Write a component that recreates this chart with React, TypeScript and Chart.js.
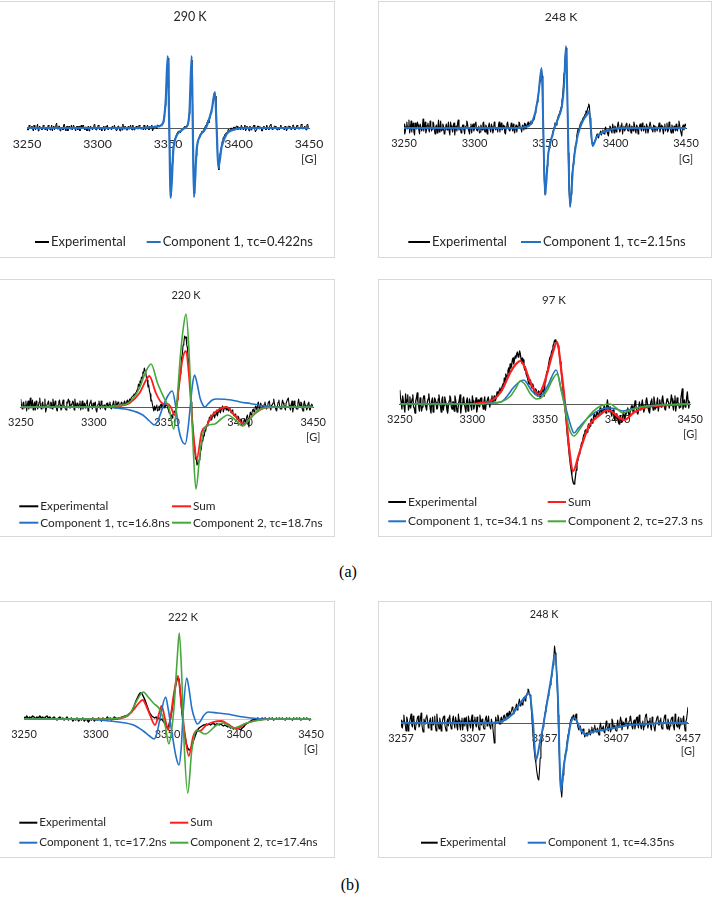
import React, { useEffect, useRef } from "react";
import { Chart, registerables } from "chart.js";

Chart.register(...registerables);

const FONT = "Lato, 'Open Sans', 'DejaVu Sans', sans-serif";
const TEXT = "#262626";
const C_EXP = "#000000";
const C_SUM = "#ff1c1c";
const C_C1 = "#2372c8";
const C_C2 = "#46a83a";

// ---------------- (a) 290 K  (experimental: 0.5 G steps from 3250) ----------------
const TICKS_A = [3250, 3300, 3350, 3400, 3450];
const T290_EXP = [
  1, -2, -2, 3, 2, -1, 0, 2, -1, -3, 3, 1, -2, 0, 1, 4, -3, -1, 2, 0,
  0, -2, -1, 3, 2, -1, -2, 1, 1, -3, 3, 2, -1, -2, 0, 3, -3, 1, 2, -2,
  1, 3, 5, -1, -1, 2, 2, -3, -2, 1, 0, -2, 3, 4, -1, -3, 1, 2, -3, 0,
  2, -1, 0, 3, -2, -2, 3, 1, -1, -3, 1, 2, -2, 0, 2, -3, 0, 3, -1, 1,
  3, 0, -2, 1, 1, -3, 0, 2, -3, -1, 2, 1, -1, -2, 1, 3, 4, -1, -2, 0,
  0, 3, 2, -2, -1, 1, -3, 0, 1, 2, -3, -1, 2, 1, 3, -2, -2, 1, 0, -1,
  -2, 2, 1, -1, 3, 0, 0, -3, -1, 2, 2, -1, -3, 1, 1, -2, 4, 0, -1, 2,
  0, -2, -2, 1, 2, -1, 1, 3, -1, -2, 3, 0, -2, 1, 0, 2, 1, -1, -1, 3,
  2, -1, -1, 1, 0, -2, 3, 1, -2, 0, 1, 3, -1, -2, 2, 0, 0, 3, -3, -1,
  1, 2, 2, 0, -1, 3, 3, 1, 1, 3, 2, 4, 4, 6, 9, 14, 22, 30, 46, 62,
  70, 40, -10, -45, -68, -50, -35, -25, -18, -14, -10, -8, -7, -5, -5, -3, -3, -5, -4, -2,
  -1, -2, 0, 1, 2, 0, 1, 3, 4, 6, 14, 25, 40, 62, 68, 15, -40, -66, -48, -35,
  -28, -20, -15, -12, -10, -8, -6, -5, -3, -3, -4, -1, 0, 2, 3, 5, 6, 8, 5, 9,
  12, 15, 18, 22, 28, 32, 36, 32, 20, 0, -20, -34, -42, -32, -25, -21, -18, -13, -10, -9,
  -8, -6, -5, -5, -4, -2, -1, -3, -3, 0, 0, -2, -2, 1, 1, -1, -1, 2, 2, -1,
  -2, 1, 0, -2, 3, 1, -1, -2, 1, 3, -3, -1, 2, 0, 0, -3, 2, 1, -2, 0,
  -1, 2, 3, -1, -4, -2, 0, 2, 2, -1, -1, 1, 1, -3, -3, 1, 2, 0, 0, -2,
  3, 1, -1, -2, 1, 3, 4, 0, -2, -1, 0, 2, 2, -1, -1, -2, 1, 0, -2, 1,
  3, -1, 0, 1, -1, -2, 2, 1, -3, -1, 1, 2, 2, 0, -1, -2, 0, 3, 3, -1,
  -2, 0, 1, 3, 2, -1, -1, 1, 0, 4, 3, -1, -1, 1, 2, -1, -2, 3, 4, 1,
  0,
];
const T290_C1_X = [3250, 3330, 3340, 3344, 3346.5, 3348.4, 3349.8, 3350.9, 3351.9, 3353.8, 3356, 3359, 3362, 3364, 3365.3, 3366.8, 3367.6, 3368.4, 3370.3, 3372.7, 3376, 3378, 3381, 3383.3, 3384.5, 3385.7, 3388, 3391.6, 3396, 3405, 3450];
const T290_C1_Y = [0, 0, 1, 2, 5, 28, 72, 0, -70, -22, -8, -3, 0, 3, 18, 72, 0, -69, -22, -8, -2, 4, 18, 36, 0, -40, -19, -6, -2, 0, 0];

// ---------------- (a) 248 K  (experimental: 0.5 G steps from 3250) ----------------
const T248A_EXP = [
  4, -6, -3, 2, 6, -1, 1, 8, -5, 0, 7, -4, 2, 5, -4, -7, 5, 1, -1, 6,
  3, -2, -6, 4, 4, -3, 0, 9, -3, 2, 6, -5, -2, 3, 5, -1, -4, 7, 2, -3,
  -1, 6, 5, -2, -6, 1, 3, -5, 1, 8, -4, 0, 7, -3, -2, 4, 2, -6, -5, 1,
  4, -2, 0, 6, -3, -7, 6, 2, -1, -4, 3, 5, -7, 0, 2, -3, 5, 8, -2, 1,
  0, -5, -4, 3, 3, -2, -6, 1, 2, 7, 5, -1, -3, -6, 1, 4, -5, 2, 4, -3,
  -1, 5, 6, -2, -3, 0, 2, -5, -4, 3, 0, -2, 5, 6, -2, -4, 3, 1, -6, -1,
  2, 5, -1, -4, 4, 1, -5, -2, 6, 3, -2, 0, 0, -4, 3, 6, -4, 1, 5, -2,
  -1, 3, 2, -5, -6, 1, 4, 6, 1, -2, -3, -1, 5, 2, -3, 4, -2, -5, 0, 3,
  -4, 1, 2, 6, 5, 0, -1, -4, 3, 2, -2, 5, 4, -1, 1, 3, 6, 2, 3, 5,
  7, 4, 5, 8, 11, 9, 15, 17, 24, 26, 31, 36, 42, 47, 53, 59, 52, 20, -25, -52,
  -66, -58, -45, -38, -30, -24, -20, -15, -12, -10, -8, -4, -2, 1, 5, 4, 3, 7, 10, 12,
  14, 16, 18, 21, 27, 32, 42, 55, 65, 74, 80, 60, 20, -25, -60, -74, -78, -66, -50, -42,
  -36, -30, -24, -18, -15, -8, -4, -1, -2, 1, 4, 6, 6, 8, 10, 11, 12, 14, 17, 15,
  18, 21, 24, 22, 10, -2, -12, -16, -18, -15, -14, -12, -11, -8, -6, -9, -10, -6, -5, -3,
  -7, -4, -2, -5, -6, -1, 1, -3, -4, -6, -8, -2, 2, 1, -3, -5, 4, 0, -5, 2,
  1, -4, -2, 3, 6, 0, -4, -2, 3, 5, -6, -1, 2, -3, -1, 4, 5, -2, -3, 1,
  4, -1, -5, 2, 1, -3, 6, 3, -2, -5, 3, 1, -6, -2, 2, 4, -1, -3, 5, 0,
  -3, 2, 0, -5, 4, 1, -5, -2, 2, 6, 6, -1, -2, -4, 3, 2, -4, 1, 1, -3,
  -3, 2, 5, -4, -1, 3, 2, -2, -6, 1, 4, -3, 0, 5, -4, -2, 6, 3, -2, -5,
  3, 0, -5, 2, 1, -3, 4, -2, -3, 2, 7, 3, -2, -5, -8, 1, 3, -2, 1, 4,
  2,
];
const T248A_C1_X = [3250, 3330, 3336, 3340, 3343, 3345.3, 3347.6, 3348.8, 3350, 3352.4, 3354.7, 3356.2, 3358, 3360, 3362, 3363.5, 3364.9, 3366.3, 3367.7, 3370, 3372.5, 3374.8, 3377.2, 3379.6, 3381.2, 3382.5, 3383.8, 3386.7, 3391.4, 3398, 3410, 3450];
const T248A_C1_Y = [0, 0, 1, 4, 15, 33, 60, 0, -67, -25, -10, -2, 5, 12, 22, 42, 82, 0, -79, -38, -12, 0, 8, 13, 17, 0, -18, -9, -4, -1, 0, 0];

// ---------------- (a) 220 K  (experimental: 0.5 G steps from 3250) ----------------
const T220_EXP = [
  8, 2, -2, 4, 5, -1, 1, 6, -4, 2, 6, -2, 3, 9, -1, 2, 7, -3, 2, 5,
  -3, 6, 4, -2, 0, 5, 9, 1, -2, 3, 5, -1, 1, 8, -5, -2, 3, 4, 6, 0,
  -1, 5, 4, -2, 8, 3, 0, 6, 3, -3, -4, 2, 5, 7, 2, -3, -2, 4, 7, 1,
  1, -2, -3, 5, 4, 8, 6, -1, -1, 3, 2, 6, 5, -3, 8, 2, 0, 4, 2, -1,
  3, 6, -3, 1, 6, -2, 1, 4, -1, 3, 4, 7, -4, -1, 2, 5, 7, 1, -2, 4,
  0, 3, 5, -3, -5, 1, 3, 6, 1, -2, 6, 3, -1, 1, 2, -2, -3, 3, 4, 1,
  0, 3, 5, -1, -2, 2, 3, 6, 1, -1, 6, 2, 2, 5, 4, 1, 1, 4, 5, 3,
  2, 4, 6, 3, 4, 6, 7, 4, 5, 8, 6, 9, 9, 11, 11, 13, 12, 14, 15, 17,
  18, 23, 21, 26, 24, 30, 29, 35, 34, 39, 36, 35, 28, 27, 20, 22, 16, 13, 6, 7,
  3, -1, -4, 1, -3, 0, 2, -4, -3, 1, -3, 2, 3, -1, -2, 3, 2, -1, 1, 2,
  2, -1, -3, -6, -5, -9, -8, -11, -7, -7, -4, -5, -1, 1, 7, 10, 19, 24, 33, 38,
  49, 53, 62, 64, 71, 69, 70, 62, 59, 48, 42, 28, 20, 5, -4, -18, -26, -39, -44, -52,
  -52, -58, -56, -57, -53, -51, -44, -42, -33, -34, -28, -29, -23, -24, -18, -19, -14, -15, -10, -13,
  -8, -13, -10, -9, -5, -11, -8, -7, -3, -9, -5, -4, -1, -6, -3, -3, 1, -5, -2, -2,
  0, -3, -2, 0, -4, -2, -1, -5, -6, -3, -5, -8, -9, -7, -8, -11, -12, -9, -10, -14,
  -15, -12, -13, -17, -17, -14, -12, -15, -14, -10, -8, -12, -20, -9, -5, -8, -7, -3, -2, -5,
  -4, 1, 0, -3, 3, 5, -2, -1, 4, 2, 1, -2, -1, 3, 5, 1, -2, 0, 3, 5,
  6, 0, -3, 2, 2, 4, 8, 3, 0, -3, -4, 1, 5, 7, 1, -2, -2, 3, 7, 4,
  2, -1, -3, 4, 4, 8, 9, 2, -1, -3, 3, 6, -5, -1, 6, 2, 1, -2, -2, 4,
  8, 3, 0, 5, 4, -2, -4, 3, 6, 1, 2, -3, -1, 4, 5, -3, -3, 2, 3, 1,
  1,
];
const T220_SUM_X = [3250, 3310, 3318, 3324.5, 3331.2, 3335.7, 3337.9, 3342.4, 3345.8, 3348.5, 3350.2, 3352.6, 3355.2, 3356.6, 3358, 3360.5, 3363, 3364.8, 3367, 3368.8, 3370.3, 3373.7, 3377, 3381, 3385, 3390.5, 3396, 3402.8, 3409, 3416, 3425, 3450];
const T220_SUM_Y = [0, 0, 1, 4, 14, 27, 31, 14, 5, 3, 3, 0, -8, 0, 18, 47, 56, 35, -8, -38, -52, -25, -19, -8, -3, 0, -8, -17, -8, -1, 0, 0];
const T220_C1_X = [3250, 3305, 3315, 3324.5, 3333.4, 3338, 3341.3, 3344, 3347.2, 3350.5, 3353.6, 3355.8, 3358, 3360.3, 3362.5, 3364.5, 3366, 3367.4, 3368.8, 3370.5, 3372.6, 3374.5, 3376, 3378, 3381, 3384, 3394, 3400, 3407, 3416, 3427, 3450];
const T220_C1_Y = [0, 0, -1, -3, -8, -14, -18, -13, 0, 11, 16, 2, -22, -34, -37, -20, 2, 22, 32, 24, 9, 2, 0, 3, 7, 8, 7, 5, 3.5, 1, 0, 0];
const T220_C2_X = [3250, 3305, 3315, 3324.5, 3331.2, 3335.7, 3339.1, 3343.5, 3348, 3351.3, 3354.6, 3356.5, 3359.2, 3361.4, 3363, 3364.8, 3366.6, 3368.1, 3369.8, 3372.6, 3376, 3382.7, 3387, 3391.6, 3396, 3401.7, 3407, 3414, 3425, 3450];
const T220_C2_Y = [0, 0, 1, 5, 19, 36, 43, 24, 9, -1, -22, 0, 52, 82, 93, 63, 3, -47, -82, -45, -20, -17, -12, -8, -12, -19, -11, -2, 0, 0];

// ---------------- (a) 97 K  (experimental: 0.5 G steps from 3250) ----------------
const T97_EXP = [
  14, 6, 2, -5, 8, 3, -3, -8, 10, 1, 4, 9, -6, -2, 7, -4, 1, 5, 9, -3,
  -4, -9, 3, 6, 11, 2, -2, -7, 6, 0, -7, -3, 4, 8, 8, -1, -3, -6, 2, 5,
  10, 3, -5, -9, 3, 6, -8, -2, 6, 4, 1, -5, -4, 5, 9, 1, -2, -8, 4, 7,
  -6, -1, 7, 3, 0, -6, -9, -2, 3, 8, 6, -3, -5, 2, 2, -7, 8, 4, -3, -8,
  -6, 1, 4, 9, -9, -3, 1, 5, 7, 0, -4, -8, 3, 6, -7, -2, 5, 1, -2, -6,
  8, 3, -5, -1, 1, 6, -8, -4, 4, -1, -3, 5, 6, 2, -1, -5, 3, 7, -6, 0,
  2, 5, 7, 1, -3, 2, 5, 8, 1, 4, 8, 3, 4, 7, 12, 8, 9, 14, 16, 12,
  14, 18, 20, 17, 26, 22, 30, 27, 28, 33, 36, 31, 40, 36, 38, 44, 46, 40, 44, 48,
  46, 50, 52, 47, 48, 53, 50, 45, 41, 46, 44, 38, 34, 37, 30, 28, 26, 22, 20, 23,
  24, 18, 16, 20, 18, 12, 10, 15, 14, 10, 8, 13, 12, 7, 6, 11, 16, 12, 14, 8,
  22, 26, 30, 33, 35, 40, 44, 47, 48, 52, 54, 58, 60, 63, 64, 62, 62, 60, 58, 54,
  48, 42, 36, 28, 20, 13, 6, -1, -8, -16, -25, -33, -40, -48, -55, -61, -66, -71, -76, -79,
  -80, -78, -72, -66, -60, -57, -54, -50, -48, -44, -40, -38, -36, -32, -30, -27, -26, -29, -28, -23,
  -20, -24, -22, -17, -15, -19, -18, -12, -10, -13, -14, -9, -8, -11, -12, -7, -4, -8, -10, -6,
  -6, -3, -2, -7, -9, -1, 4, -3, -8, -6, -3, -9, -12, -7, -6, -13, -16, -11, -10, -15,
  -14, -18, -20, -15, -12, -17, -18, -13, -8, -12, -15, -9, -10, -6, -4, -9, -12, -8, -6, -2,
  -2, -7, -9, -3, 3, -1, -5, -9, -10, -4, 2, -3, -6, -1, 4, -2, -8, -5, -1, 3,
  6, 1, -4, -7, -9, -2, 3, 5, -2, -6, 7, 2, -5, -3, 1, 6, -7, -2, 4, -1,
  -3, 4, 8, 2, -1, -5, -6, 1, 5, 3, 2, -4, -4, 2, 9, 5, -2, -6, 3, 8,
  -7, -1, 6, 2, 0, -4, -3, 5, 10, 15, -5, -1, 4, -3, -2, 6, 12, 3, -4, 1,
  2,
];
const T97_SUM_X = [3250, 3300, 3306, 3312.9, 3319.6, 3326.3, 3330, 3333, 3336, 3339.8, 3343, 3345.4, 3348, 3351, 3355.5, 3358.4, 3361.1, 3364, 3366.7, 3369.4, 3373.4, 3380.2, 3386.9, 3393.6, 3400.4, 3404.4, 3411.6, 3420.6, 3436, 3450];
const T97_SUM_Y = [0, 0, 1, 3, 12, 32, 40, 43, 37, 22, 13, 10, 15, 28, 52, 62, 35, -2, -45, -67, -50, -22, -12, -6, -13, -16, -8, -3, -1, 0];
const T97_C1_X = [3250, 3305, 3312, 3319.6, 3324, 3328.6, 3335.3, 3341, 3345.4, 3348.5, 3352.2, 3357.7, 3361.1, 3364, 3367.8, 3370, 3373, 3380.2, 3389.2, 3394.8, 3399, 3403.8, 3410, 3416.1, 3430, 3450];
const T97_C1_Y = [0, 0, 1, 2, 8, 17, 24, 13, 8, 10, 19, 34, 15, -2, -22, -29, -24, -13, -5, -4, -5, -7, -5, -3, -1, 0];
const T97_C2_X = [3250, 3305, 3315, 3319.6, 3326.3, 3330, 3333, 3336, 3340, 3344.3, 3348, 3352, 3355, 3358.4, 3361.1, 3363.5, 3366.5, 3370, 3374, 3380.2, 3386, 3390, 3394.8, 3399, 3403.8, 3409, 3416.1, 3430, 3450];
const T97_C2_Y = [0, 0, 1, 2, 8, 16, 23, 20, 10, 5, 7, 15, 24, 30, 14, -2, -24, -32, -25, -12, -4, -1, 0, -4, -9, -6, -3, -1, 0];

// ---------------- (b) 222 K  (experimental: 1 G steps from 3250) ----------------
const T222_EXP = [
  2, 1, 3, 0, 2, 1, 3, 2, 0, 2, 1, 3, 1, 2, 0, 2, 3, 1, 2, 0,
  1, 2, 0, -1, 1, 2, 0, 1, -1, 0, 2, -1, 0, 1, -2, 0, -1, 1, -2, 0,
  -1, 1, -2, 0, -1, -3, 0, -1, 1, -2, 0, -1, 1, 0, -2, 1, 0, -1, 2, 0,
  1, -1, 0, 2, 1, 0, 1, 1, 2, 2, 3, 3, 4, 5, 6, 7, 10, 14, 18, 21,
  24, 26, 26, 23, 20, 16, 12, 8, 5, 3, 2, 1, 2, 0, 1, -1, 0, -2, -4, -7,
  -9, -6, 0, 8, 18, 28, 36, 41, 40, 25, 8, -6, -16, -24, -29, -31, -30, -27, -22, -18,
  -14, -11, -9, -8, -7, -6, -6, -5, -6, -5, -6, -5, -4, -6, -5, -5, -6, -5, -6, -7,
  -6, -7, -8, -7, -9, -8, -10, -9, -10, -9, -10, -11, -9, -8, -6, -5, -4, -3, -2, -1,
  -1, 0, -1, 1, 0, -1, 1, 0, 1, 0, -1, 1, 0, 1, -1, 0, 1, 0, 1, 0,
  1, 0, -1, 1, 0, 1, 0, -1, 1, 0, 1, 0, 1, -1, 0, 1, 0, 1, 0, -1,
  0,
];
const T222_SUM_X = [3250, 3310, 3316.9, 3322, 3326.2, 3329.5, 3332.7, 3335.5, 3337.8, 3341.3, 3343.8, 3345.9, 3348.3, 3350.6, 3352.3, 3354, 3357.3, 3359.9, 3362.2, 3364.8, 3368, 3370.3, 3372.6, 3377, 3381.9, 3387.6, 3392, 3398, 3404, 3410, 3418, 3450];
const T222_SUM_Y = [0, 0, 0.5, 3, 9, 15, 19, 12, 4, -6, 4, 13, 0, -11, 3, 21, 43, 11, -16, -37, -17, -12, -12, -6, -3, -2, -5, -10, -5, -2, 0, 0];
const T222_C1_X = [3250, 3295, 3303, 3316, 3326.2, 3333.1, 3337.5, 3340.7, 3343, 3344.8, 3348.7, 3350.5, 3352.9, 3356, 3358, 3359.5, 3361, 3363.4, 3365, 3366.9, 3369, 3370.8, 3373, 3375, 3378.4, 3385, 3391.2, 3397, 3403, 3412, 3420, 3450];
const T222_C1_Y = [0, 0, -1, -3, -6, -12, -17, -20, -12, 1, 22, 10, -12, -38, -46, -30, 8, 41, 30, 11, 0, -5, -2, 3, 7, 6, 5, 3.5, 2, 0.5, 0, 0];
const T222_C2_X = [3250, 3305, 3312, 3316.9, 3323.9, 3328.5, 3333.1, 3336.5, 3340.1, 3344.8, 3348.3, 3351, 3353, 3354.5, 3356.8, 3358.2, 3359.9, 3361.5, 3364.1, 3366.9, 3370.3, 3376.1, 3384.3, 3388.9, 3395.9, 3405.2, 3414.5, 3425, 3450];
const T222_C2_Y = [0, 0, 0.5, 1, 6, 18, 27, 22, 16, 9, -6, -25, -10, 11, 61, 86, 44, -22, -74, -32, -11, -15, -6, -4, -9, -4, -1, 0, 0];

// ---------------- (b) 248 K  (experimental: 0.5 G steps from 3257) ----------------
const TICKS_B = [3257, 3307, 3357, 3407, 3457];
const T248B_EXP = [
  3, -4, -5, 2, 8, 1, -2, -8, 6, 3, -8, -3, 1, 5, 9, -2, -4, 7, 5, -6,
  -7, -1, 2, 6, 7, -4, -3, 4, 10, -1, -6, -9, 4, 1, -1, 6, 8, 3, -5, -2,
  2, 5, -7, -3, 6, -2, 0, 7, -4, -8, 9, 2, -2, -6, 5, 1, -8, -3, 3, 6,
  7, -1, -5, -8, 1, 4, -3, 6, 8, -2, -6, -3, 4, 7, -1, -5, 6, 2, -4, -7,
  9, 3, -3, -7, 2, 5, -7, -1, 5, -3, 1, 6, -5, -8, 7, 2, -2, -5, 4, 8,
  -8, -2, 3, 6, -1, -4, 6, 1, -4, -7, 8, 3, -2, 4, 2, -5, -6, 1, 5, 7,
  -3, 2, 7, -1, -1, -6, 4, 0, -5, -12, -20, -4, 6, 2, 2, 8, 5, -1, -1, 4,
  6, 1, 3, 7, 8, 3, 4, 9, 10, 5, 6, 12, 8, 11, 12, 16, 14, 9, 10, 15,
  16, 19, 13, 17, 20, 24, 17, 21, 22, 18, 19, 25, 26, 22, 24, 28, 30, 34, 33, 28,
  28, 20, 10, -2, -12, -22, -30, -36, -40, -47, -52, -56, -57, -48, -35, -25, -15, -9, -4, 1,
  6, 11, 16, 19, 22, 27, 30, 34, 38, 42, 46, 52, 58, 66, 77, 70, 62, 48, 32, 8,
  -18, -40, -56, -66, -74, -63, -52, -44, -36, -31, -28, -21, -16, -11, -8, -3, 1, 4, 6, 3,
  8, 5, 3, 6, 9, 3, -2, -5, -7, -4, -3, -8, -11, -7, -6, -9, -14, -12, -10, -13,
  -13, -9, -6, -10, -12, -7, -4, -9, -10, -5, -2, -7, -9, -6, -5, -10, -12, -4, 0, -5,
  -8, -6, -3, -9, -10, -4, 2, -3, -6, -8, -1, -4, -9, -6, 4, 2, -5, -3, -2, -7,
  -8, -2, 3, -4, -4, 1, 6, 2, -7, -3, 1, -2, -3, 4, 5, -1, -6, -2, 2, 6,
  7, 1, -4, -6, 1, 3, -6, -2, 5, 6, -2, -5, 8, 3, -3, -6, 0, 2, -7, -3,
  4, 8, 9, 2, -5, -2, 2, 5, -4, -7, 6, 1, -1, -5, -8, 0, 3, 6, 7, -2,
  -2, 3, 5, -4, -6, -1, 1, 6, 8, 2, -3, -6, 4, 1, -7, -3, 2, 5, 6, -1,
  -4, -7, 9, 3, -2, -4, 3, 6, -6, -2, 5, 1, -1, 4, 7, -3, -8, 1, 4, 10,
  16,
];
const T248B_C1_X = [3257, 3320, 3324, 3327.9, 3334.8, 3340.6, 3344, 3346.4, 3348.8, 3351.1, 3353.5, 3355.7, 3359.2, 3361.8, 3364.3, 3366.2, 3368.5, 3370, 3372, 3375.5, 3377.8, 3379.5, 3381.3, 3383.5, 3386, 3389, 3392.9, 3402.2, 3416.1, 3430, 3440, 3457];
const T248B_C1_Y = [0, 0, 0.5, 2, 9, 21, 27, 30, 4, -37, -22, -6, 24, 46, 69, 31, -68, -48, -29, 1, 5, 2, -4, -9, -12, -10, -8, -6, -2, -1, 0, 0];

// ---------------- helpers & types ----------------
const fieldGrid = (start: number, n: number, step: number) => Array.from({ length: n }, (_, i) => start + i * step);

type Series = { label: string; color: string; width: number; xs: number[]; ys: number[]; order: number; smooth: boolean };
type LegendItem = { ds: number; x0: number; x1: number; y: number };
type Spec = {
  key: string;
  left: number; top: number; width: number; height: number;
  padL: number; padR: number; axisRel: number;
  xMin: number; xMax: number; ticks: number[];
  title: string; titleX: number; titleY: number; titleSize: number;
  tickSize: number; legendSize: number; unitDy: number; axisColor: string;
  series: Series[]; legend: LegendItem[];
};

const expSeries = (ys: number[], start: number, step: number, width: number, order: number): Series => ({
  label: "Experimental", color: C_EXP, width, xs: fieldGrid(start, ys.length, step), ys, order, smooth: false,
});
const fit = (label: string, color: string, width: number, xs: number[], ys: number[], order: number): Series => ({
  label, color, width, xs, ys, order, smooth: true,
});

const SPECS: Spec[] = [
  {
    key: "p290", left: -1, top: 1, width: 336, height: 257, padL: 28, padR: 26, axisRel: 127,
    xMin: 3250, xMax: 3450, ticks: TICKS_A,
    title: "290 K", titleX: 191, titleY: 16, titleSize: 12.5, tickSize: 12.3, legendSize: 13, unitDy: 31, axisColor: "#595959",
    series: [
      expSeries(T290_EXP, 3250, 0.5, 1, 2),
      fit("Component 1, τc=0.422ns", C_C1, 2.2, T290_C1_X, T290_C1_Y, 1),
    ],
    legend: [
      { ds: 0, x0: 36, x1: 50, y: 241 },
      { ds: 1, x0: 147.7, x1: 161.7, y: 241 },
    ],
  },
  {
    key: "p248a", left: 378, top: 1, width: 334, height: 257, padL: 26, padR: 26, axisRel: 127,
    xMin: 3250, xMax: 3450, ticks: TICKS_A,
    title: "248 K", titleX: 183, titleY: 16, titleSize: 12.2, tickSize: 11, legendSize: 13, unitDy: 31, axisColor: "#404040",
    series: [
      expSeries(T248A_EXP, 3250, 0.5, 1.1, 2),
      fit("Component 1, τc=2.15ns", C_C1, 2, T248A_C1_X, T248A_C1_Y, 1),
    ],
    legend: [
      { ds: 0, x0: 30.3, x1: 52, y: 241 },
      { ds: 1, x0: 143, x1: 163, y: 241 },
    ],
  },
  {
    key: "p220", left: -1, top: 279, width: 336, height: 258, padL: 20, padR: 18, axisRel: 128,
    xMin: 3250, xMax: 3450, ticks: TICKS_A,
    title: "220 K", titleX: 187, titleY: 16, titleSize: 11, tickSize: 11, legendSize: 11.8, unitDy: 30.7, axisColor: "#595959",
    series: [
      expSeries(T220_EXP, 3250, 0.5, 1.1, 4),
      fit("Sum", C_SUM, 1.8, T220_SUM_X, T220_SUM_Y, 3),
      fit("Component 1, τc=16.8ns", C_C1, 1.6, T220_C1_X, T220_C1_Y, 2),
      fit("Component 2, τc=18.7ns", C_C2, 1.6, T220_C2_X, T220_C2_Y, 1),
    ],
    legend: [
      { ds: 0, x0: 20.3, x1: 39.3, y: 227.3 },
      { ds: 1, x0: 173, x1: 192, y: 227.3 },
      { ds: 2, x0: 20.3, x1: 39.3, y: 243.7 },
      { ds: 3, x0: 173, x1: 192, y: 243.7 },
    ],
  },
  {
    key: "p97", left: 378, top: 279, width: 334, height: 258, padL: 18, padR: 19, axisRel: 125,
    xMin: 3250, xMax: 3450, ticks: TICKS_A,
    title: "97 K", titleX: 176, titleY: 21, titleSize: 11.5, tickSize: 11, legendSize: 12, unitDy: 30.7, axisColor: "#595959",
    series: [
      expSeries(T97_EXP, 3250, 0.5, 1.3, 4),
      fit("Sum", C_SUM, 2.2, T97_SUM_X, T97_SUM_Y, 3),
      fit("Component 1, τc=34.1 ns", C_C1, 1.6, T97_C1_X, T97_C1_Y, 2),
      fit("Component 2, τc=27.3 ns", C_C2, 1.6, T97_C2_X, T97_C2_Y, 1),
    ],
    legend: [
      { ds: 0, x0: 10.3, x1: 28, y: 223 },
      { ds: 1, x0: 169.7, x1: 188, y: 223 },
      { ds: 2, x0: 10.3, x1: 28, y: 242.3 },
      { ds: 3, x0: 169.7, x1: 188, y: 242.3 },
    ],
  },
  {
    key: "p222", left: -1, top: 601, width: 336, height: 257, padL: 25, padR: 24, axisRel: 118,
    xMin: 3250, xMax: 3450, ticks: TICKS_A,
    title: "222 K", titleX: 184, titleY: 16, titleSize: 11.3, tickSize: 11, legendSize: 11.6, unitDy: 30, axisColor: "#c8c8c8",
    series: [
      expSeries(T222_EXP, 3250, 1, 1.5, 4),
      fit("Sum", C_SUM, 1.8, T222_SUM_X, T222_SUM_Y, 3),
      fit("Component 1, τc=17.2ns", C_C1, 1.6, T222_C1_X, T222_C1_Y, 2),
      fit("Component 2, τc=17.4ns", C_C2, 1.6, T222_C2_X, T222_C2_Y, 1),
    ],
    legend: [
      { ds: 0, x0: 20.3, x1: 38.3, y: 221.7 },
      { ds: 1, x0: 171, x1: 189.3, y: 221.7 },
      { ds: 2, x0: 20.3, x1: 38.3, y: 241.7 },
      { ds: 3, x0: 171, x1: 189.3, y: 241.7 },
    ],
  },
  {
    key: "p248b", left: 378, top: 601, width: 334, height: 257, padL: 23, padR: 24, axisRel: 122,
    xMin: 3257, xMax: 3457, ticks: TICKS_B,
    title: "248 K", titleX: 166, titleY: 14, titleSize: 10.8, tickSize: 11, legendSize: 11.5, unitDy: 28.7, axisColor: "#595959",
    series: [
      expSeries(T248B_EXP, 3257, 0.5, 1.1, 2),
      fit("Component 1, τc=4.35ns", C_C1, 2, T248B_C1_X, T248B_C1_Y, 1),
    ],
    legend: [
      { ds: 0, x0: 43, x1: 59.7, y: 241.7 },
      { ds: 1, x0: 149.7, x1: 168, y: 241.7 },
    ],
  },
];

function Panel({ spec }: { spec: Spec }) {
  const ref = useRef<HTMLCanvasElement | null>(null);

  useEffect(() => {
    const canvas = ref.current;
    if (!canvas) return;

    const decor = {
      id: "decor-" + spec.key,
      afterDraw(chart: any) {
        const ctx: CanvasRenderingContext2D = chart.ctx;
        const xs = chart.scales.x;
        const ys = chart.scales.y;
        ctx.save();
        ctx.strokeStyle = "#d9d9d9";
        ctx.lineWidth = 1;
        ctx.strokeRect(0.5, 0.5, spec.width - 1, spec.height - 1);

        ctx.fillStyle = TEXT;
        ctx.textAlign = "center";
        ctx.textBaseline = "middle";
        ctx.font = `${spec.titleSize}px ${FONT}`;
        ctx.fillText(spec.title, spec.titleX, spec.titleY);

        ctx.font = `${spec.tickSize}px ${FONT}`;
        ctx.fillText("[G]", xs.getPixelForValue(spec.xMax), ys.getPixelForValue(0) + spec.unitDy);

        ctx.textAlign = "left";
        ctx.font = `${spec.legendSize}px ${FONT}`;
        for (const item of spec.legend) {
          const ds = chart.data.datasets[item.ds];
          ctx.strokeStyle = ds.borderColor;
          ctx.lineWidth = 2;
          ctx.beginPath();
          ctx.moveTo(item.x0, item.y);
          ctx.lineTo(item.x1, item.y);
          ctx.stroke();
          ctx.fillStyle = TEXT;
          ctx.fillText(ds.label, item.x1 + 2, item.y);
        }
        ctx.restore();
      },
    };

    const chart = new Chart(canvas, {
      type: "line",
      data: {
        datasets: spec.series.map((s) => ({
          label: s.label,
          data: s.xs.map((x, i) => ({ x, y: s.ys[i] })),
          borderColor: s.color,
          backgroundColor: s.color,
          borderWidth: s.width,
          pointRadius: 0,
          fill: false,
          order: s.order,
          tension: 0,
          cubicInterpolationMode: s.smooth ? "monotone" : "default",
          borderJoinStyle: "round",
        })),
      },
      options: {
        responsive: false,
        animation: false,
        events: [],
        layout: { padding: { left: spec.padL, right: spec.padR, top: 0, bottom: 0 } },
        plugins: {
          legend: { display: false },
          title: { display: false },
          tooltip: { enabled: false },
        },
        scales: {
          x: {
            type: "linear",
            min: spec.xMin,
            max: spec.xMax,
            position: { y: 0 },
            grid: { display: false, drawTicks: false },
            border: { display: true, color: spec.axisColor, width: 1 },
            ticks: {
              color: TEXT,
              font: { family: FONT, size: spec.tickSize },
              padding: 9,
              maxRotation: 0,
              autoSkip: false,
              callback: (v: any) => String(v),
            },
            afterBuildTicks: (scale: any) => {
              scale.ticks = spec.ticks.map((v) => ({ value: v }));
            },
          },
          y: {
            type: "linear",
            display: false,
            min: spec.axisRel - spec.height,
            max: spec.axisRel,
            grid: { display: false },
          },
        },
      } as any,
      plugins: [decor],
    } as any);

    return () => chart.destroy();
  }, [spec]);

  return (
    <canvas
      ref={ref}
      width={spec.width}
      height={spec.height}
      style={{ position: "absolute", left: spec.left, top: spec.top, width: spec.width, height: spec.height }}
    />
  );
}

const capStyle: React.CSSProperties = {
  position: "absolute",
  width: 40,
  textAlign: "center",
  fontFamily: "'Liberation Serif', 'DejaVu Serif', serif",
  fontSize: 16,
  lineHeight: "20px",
  color: "#000",
};

export default function App() {
  return (
    <div style={{ position: "absolute", left: 0, top: 0, width: 713, height: 900, background: "#fff", overflow: "hidden" }}>
      {SPECS.map((s) => (
        <Panel key={s.key} spec={s} />
      ))}
      <div style={{ ...capStyle, left: 328, top: 562 }}>(a)</div>
      <div style={{ ...capStyle, left: 330, top: 875 }}>(b)</div>
    </div>
  );
}
